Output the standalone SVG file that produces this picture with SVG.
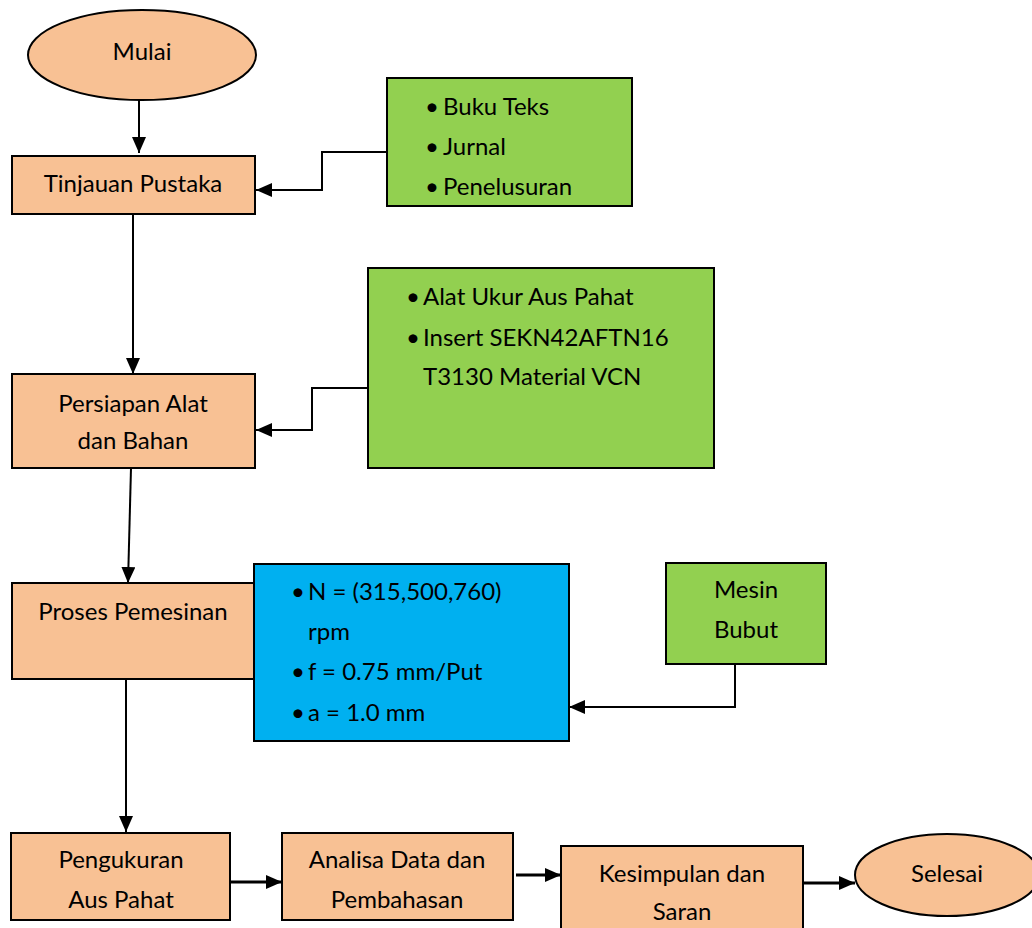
<svg xmlns="http://www.w3.org/2000/svg" width="1032" height="928" viewBox="0 0 1032 928">
<style>
.o{fill:#F8C194;stroke:#000;stroke-width:2}
.g{fill:#92D050;stroke:#000;stroke-width:2}
.b{fill:#00B0F0;stroke:#000;stroke-width:2}
.c{fill:none;stroke:#000;stroke-width:2}
.t{fill:none;stroke:#000;stroke-width:3}
text{font-family:Lato,"Liberation Sans",sans-serif;font-size:24px;fill:#000}
.m{text-anchor:middle}
</style>
<defs>
<marker id="ah" viewBox="0 0 16 14" refX="16" refY="7" markerWidth="16" markerHeight="14" markerUnits="userSpaceOnUse" orient="auto">
<path d="M0,0L16,7L0,14z" fill="#000"/>
</marker>
</defs>
<rect width="1032" height="928" fill="#fff"/>
<g id="connectors">
<path class="c" d="M139,100V153" marker-end="url(#ah)"/>
<path class="c" d="M387,152H322V190H256" marker-end="url(#ah)"/>
<path class="c" d="M133,214V374" marker-end="url(#ah)"/>
<path class="c" d="M368,388H312V430H256" marker-end="url(#ah)"/>
<path class="c" d="M131,468L128,583" marker-end="url(#ah)"/>
<path class="c" d="M735,664V707H569" marker-end="url(#ah)"/>
<path class="c" d="M126,679V832" marker-end="url(#ah)"/>
<path class="t" d="M230,882H282" marker-end="url(#ah)"/>
<path class="t" d="M516,875H561" marker-end="url(#ah)"/>
<path class="t" d="M803,883H855" marker-end="url(#ah)"/>
</g>
<g id="mulai">
<ellipse class="o" cx="142" cy="55" rx="114" ry="45"/>
<text class="m" x="142" y="60">Mulai</text>
</g>
<g id="tinjauan">
<rect class="o" x="12" y="156" width="243" height="58"/>
<text class="m" x="133" y="192">Tinjauan Pustaka</text>
</g>
<g id="sumber">
<rect class="g" x="387" y="78" width="245" height="128"/>
<text x="425" y="115">•<tspan x="443">Buku Teks</tspan></text>
<text x="425" y="155">•<tspan x="443">Jurnal</tspan></text>
<text x="425" y="195">•<tspan x="443">Penelusuran</tspan></text>
</g>
<g id="persiapan">
<rect class="o" x="12" y="374" width="243" height="94"/>
<text class="m" x="133" y="412">Persiapan Alat</text>
<text class="m" x="133" y="449">dan Bahan</text>
</g>
<g id="alat">
<rect class="g" x="368" y="268" width="346" height="200"/>
<text x="406" y="305">•<tspan x="423">Alat Ukur Aus Pahat</tspan></text>
<text x="406" y="346">•<tspan x="423">Insert SEKN42AFTN16</tspan></text>
<text x="423" y="385">T3130 Material VCN</text>
</g>
<g id="proses">
<rect class="o" x="12" y="583" width="243" height="96"/>
<text class="m" x="133" y="620">Proses Pemesinan</text>
</g>
<g id="parameter">
<rect class="b" x="254" y="564" width="315" height="177"/>
<text x="291" y="600">•<tspan x="308">N = (315,500,760)</tspan></text>
<text x="308" y="640">rpm</text>
<text x="291" y="680">•<tspan x="308">f = 0.75 mm/Put</tspan></text>
<text x="291" y="721">•<tspan x="308">a = 1.0 mm</tspan></text>
</g>
<g id="mesin">
<rect class="g" x="666" y="563" width="160" height="101"/>
<text class="m" x="746" y="598">Mesin</text>
<text class="m" x="746" y="638">Bubut</text>
</g>
<g id="pengukuran">
<rect class="o" x="11" y="833" width="219" height="87"/>
<text class="m" x="121" y="868">Pengukuran</text>
<text class="m" x="121" y="908">Aus Pahat</text>
</g>
<g id="analisa">
<rect class="o" x="282" y="833" width="231" height="87"/>
<text class="m" x="397" y="868">Analisa Data dan</text>
<text class="m" x="397" y="908">Pembahasan</text>
</g>
<g id="kesimpulan">
<rect class="o" x="561" y="846" width="242" height="90"/>
<text class="m" x="682" y="882">Kesimpulan dan</text>
<text class="m" x="682" y="920">Saran</text>
</g>
<g id="selesai">
<ellipse class="o" cx="947" cy="875" rx="92" ry="41"/>
<text class="m" x="947" y="882">Selesai</text>
</g>
</svg>
